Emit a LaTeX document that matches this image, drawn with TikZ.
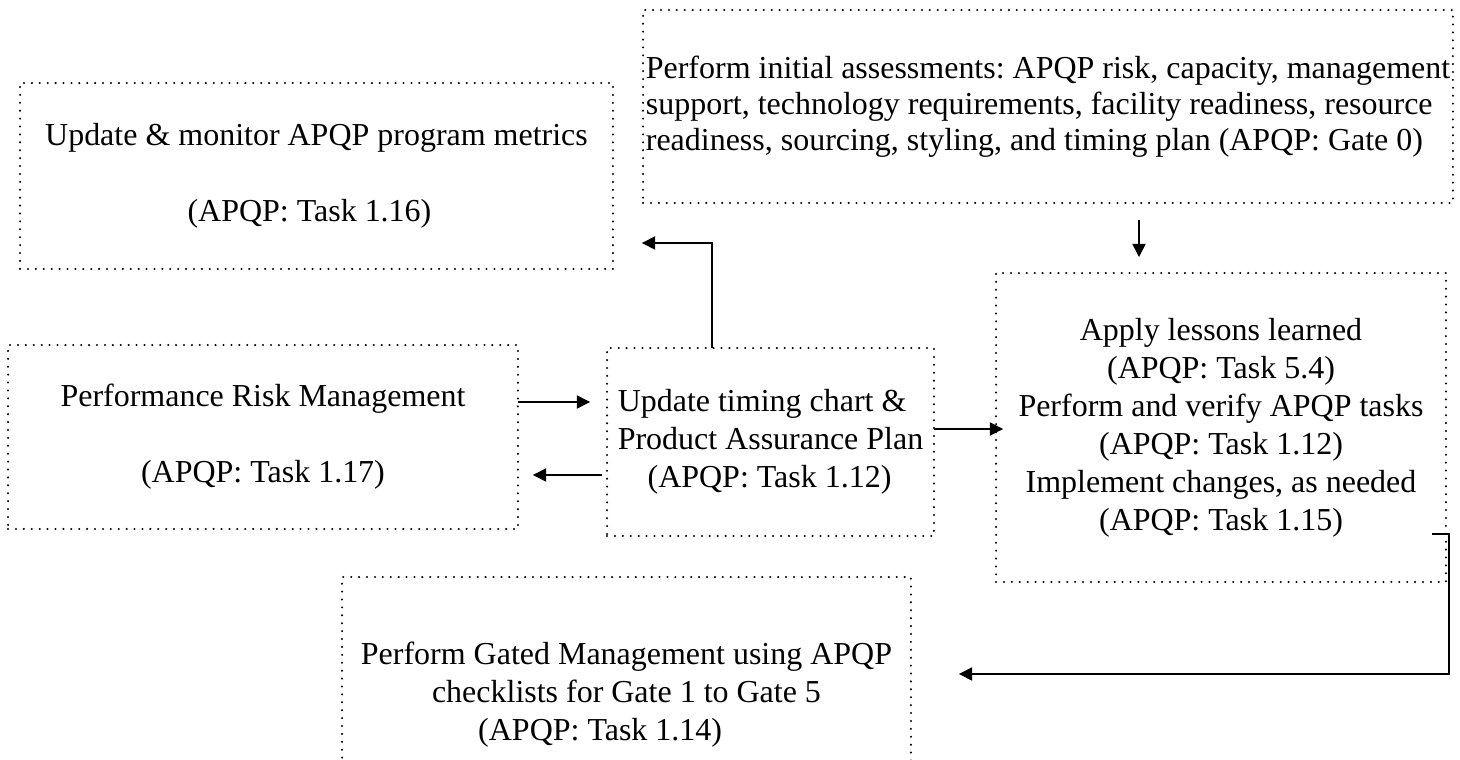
\documentclass[tikz,border=0pt]{standalone}
\usepackage{fontspec}
\setmainfont{Liberation Serif}
\usetikzlibrary{arrows.meta,calc}
\frenchspacing

\begin{document}
\begin{tikzpicture}[x=0.02cm, y=-0.02cm,
        every node/.style={inner sep=0pt, outer sep=0pt, font=\fontsize{18.2}{21.6}\selectfont},
        dots/.style={line width=1.3pt, line cap=round, dash pattern=on 0pt off 4.5pt},
        box/.style={rectangle, draw, dots},
        arr/.style={-{Triangle[length=7.5pt, width=7.5pt]}, line width=0.9pt}]

        \useasboundingbox (0,0) rectangle (1460,760);

        % Boxes
        \node[box, align=center, minimum width=11.86cm, minimum height=3.72cm] (upd) at (316.5,176)
            {Update \& monitor APQP program metrics\\[21.6pt](APQP: Task 1.16)\hspace*{8pt}};
        \node[box, align=left, minimum width=16.2cm, minimum height=3.86cm,
              font=\fontsize{18.2}{20.5}\selectfont] (ini) at (1048,106.5)
            {Perform initial assessments: APQP risk, capacity, management\\
             support, technology requirements, facility readiness, resource\\
             readiness, sourcing, styling, and timing plan (APQP: Gate 0)};
        \node[box, align=center, minimum width=10.2cm, minimum height=3.68cm] (prm) at (263,437)
            {Performance Risk Management\\[21.6pt](APQP: Task 1.17)};
        \node[box, align=left, minimum width=6.54cm, minimum height=3.76cm] (tim) at (770.5,442)
            {Update timing chart \&\\Product Assurance Plan\\\hspace*{17pt}(APQP: Task 1.12)};
        \node[box, align=center, minimum width=9cm, minimum height=6.18cm] (les) at (1221,427.5)
            {Apply lessons learned\\(APQP: Task 5.4)\\Perform and verify APQP tasks\\
             (APQP: Task 1.12)\\Implement changes, as needed\\(APQP: Task 1.15)};
        \node[align=center, minimum width=11.38cm, minimum height=4.72cm] (gat) at (626.5,695)
            {Perform Gated Management using APQP\\checklists for Gate 1 to Gate 5\\
             (APQP: Task 1.14)\hspace*{30pt}};
        \draw[dots] (gat.south west) -- (gat.north west) -- (gat.north east) -- (gat.south east);

        % Arrows
        \draw[arr] ($(tim.north)+(-58.5,0)$) |- ($(upd.east)+(29,67)$);
        \draw[arr] ($(prm.east)+(0,-35)$) -- ($(tim.west)+(-17,-40)$);
        \draw[arr] ($(tim.west)+(-5,33)$) -- ($(prm.east)+(15,38)$);
        \draw[arr] ($(tim.east)+(0,-13)$) -- ($(les.west)+(7,1.5)$);
        \draw[arr] ($(ini.south)+(91,17)$) -- ($(les.north)+(-82,-16)$);
        \draw[arr] ($(les.east)+(-14,106.5)$) -- ++(17,0) |- ($(gat.east)+(48,-21)$);
\end{tikzpicture}
\end{document}
